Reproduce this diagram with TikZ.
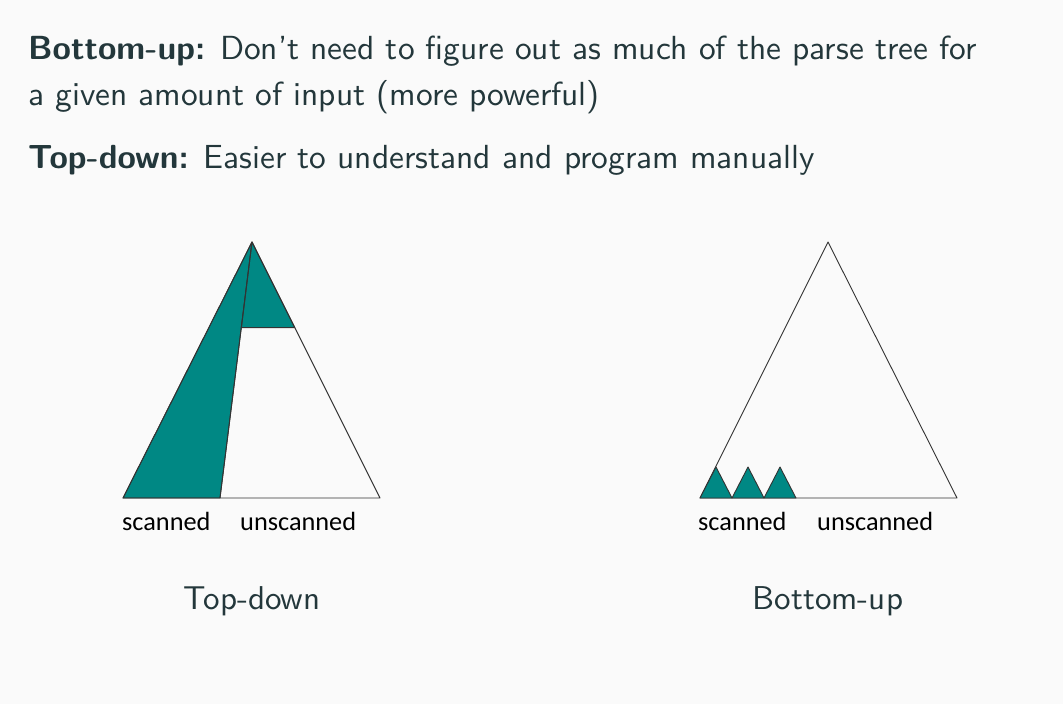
\documentclass[tikz,border=0pt]{standalone}
\usepackage{fontspec}
\newfontfamily\labelfont{Carlito}
\newfontfamily\bodyfont{lmsans10-regular}[Extension=.otf, BoldFont=lmsans10-bold, Ligatures=TeX]
\definecolor{bgc}{HTML}{FAFAFA}
\definecolor{fg}{HTML}{23373B}
\definecolor{tealfill}{RGB}{0,136,132}
\tikzset{
  body/.style={anchor=base west, inner sep=0pt, text=fg, font=\bodyfont\fontsize{33.4}{40}\selectfont},
  caption/.style={anchor=base, inner sep=0pt, text=fg, font=\bodyfont\fontsize{33}{40}\selectfont},
  lbl/.style={anchor=base west, inner sep=0pt, text=black, font=\labelfont\fontsize{26.3}{30}\selectfont},
  edge/.style={draw=black!80, line width=0.9pt, line join=round},
  part/.style={fill=tealfill, draw=black!80, line width=0.9pt, line join=round}
}
\begin{document}
\begin{tikzpicture}[x=1pt,y=-1pt]
\fill[bgc] (0,0) rectangle (1063,704);
\useasboundingbox (0,0) rectangle (1063,704);
% text
\node[body] (l1) at (28,59) {\textbf{Bottom-up:} Don’t need to figure out as much of the parse tree for};
\node[body] (l2) at (28,105) {a given amount of input (more powerful)};
\node[body] (l3) at (28,168) {\textbf{Top-down:} Easier to understand and program manually};
% top-down tree
\coordinate (ta) at (252,242);
\coordinate (tl) at (123,498);
\coordinate (tr) at (380,498);
\coordinate (tm) at (220,498);
\coordinate (tk) at (241.4,327.7);
\coordinate (tj) at (294.8,327.7);
\path[part] (ta) -- (tl) -- (tm) -- cycle;
\path[part] (ta) -- (tk) -- (tj) -- cycle;
\draw[edge] (ta) -- (tl) -- (tr) -- cycle;
\draw[edge] (ta) -- (tm);
\draw[edge] (tk) -- (tj);
\node[lbl] (ts) at (122,530) {scanned};
\node[lbl] (tu) at (240,530) {unscanned};
\node[caption] (tc) at (252,609) {Top-down};
% bottom-up tree
\coordinate (ba) at (828,242);
\coordinate (bl) at (700,498);
\coordinate (br) at (957,498);
\draw[edge] (ba) -- (bl) -- (br) -- cycle;
\foreach \i in {0,1,2} {
  \path[part] (700+32*\i,498) -- (716+32*\i,467) -- (732+32*\i,498) -- cycle;
}
\node[lbl] (bs) at (698,530) {scanned};
\node[lbl] (bu) at (817,530) {unscanned};
\node[caption] (bc) at (828,609) {Bottom-up};
\end{tikzpicture}
\end{document}
